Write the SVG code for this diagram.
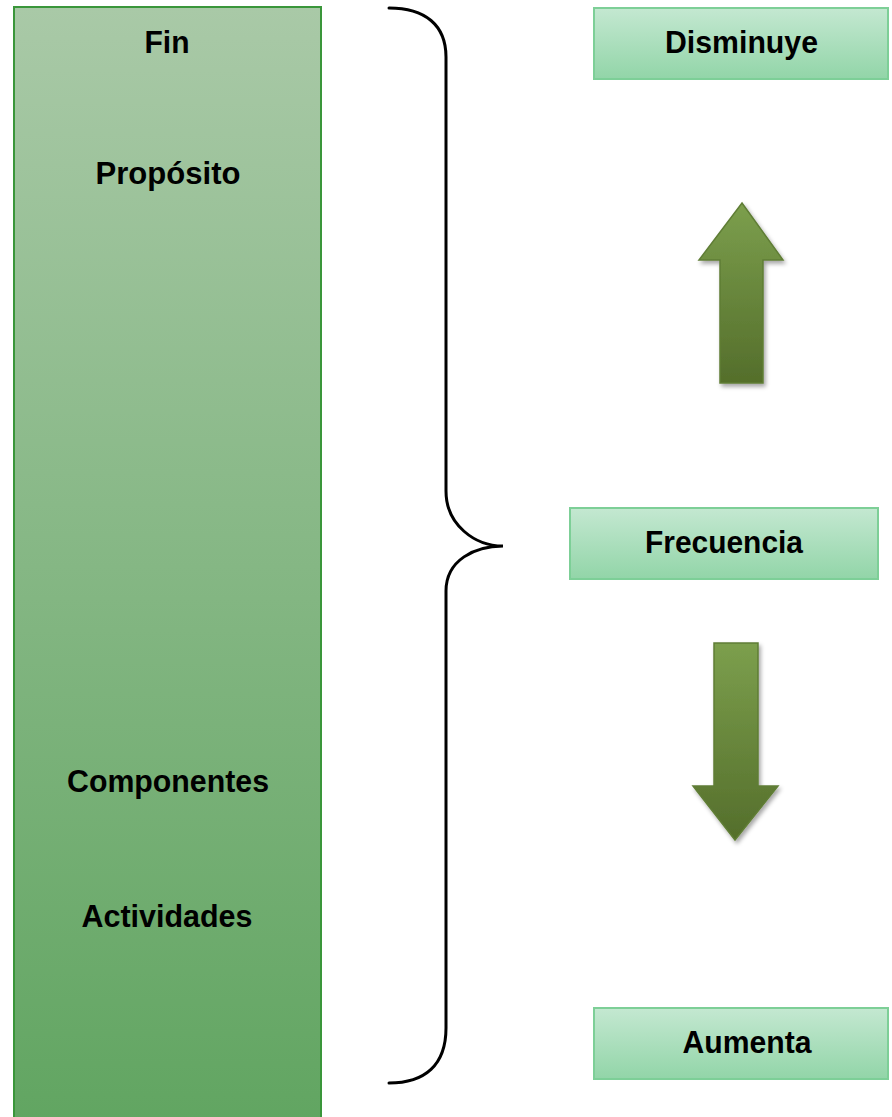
<svg xmlns="http://www.w3.org/2000/svg" width="892" height="1117" viewBox="0 0 892 1117">
<style>
.lbl{font-family:"Liberation Sans",Arial,sans-serif;font-weight:bold;font-size:31px;fill:#000;text-anchor:middle}
.box{fill:url(#boxGrad);stroke:#7dcf97;stroke-width:2}
.arrow{fill:url(#arrGrad);stroke:#5f7d35;stroke-width:1.5;filter:url(#shadow)}
.brace{fill:none;stroke:#000;stroke-width:3;stroke-linecap:round}
</style>
<defs>
<linearGradient id="colGrad" x1="0" y1="0" x2="0" y2="1">
<stop offset="0" stop-color="#a9c9a7"/>
<stop offset="1" stop-color="#61a561"/>
</linearGradient>
<linearGradient id="boxGrad" x1="0" y1="0" x2="0" y2="1">
<stop offset="0" stop-color="#c4e8d1"/>
<stop offset="1" stop-color="#92d5a8"/>
</linearGradient>
<linearGradient id="arrGrad" x1="0" y1="0" x2="0" y2="1">
<stop offset="0" stop-color="#7c9f4d"/>
<stop offset="1" stop-color="#546e2b"/>
</linearGradient>
<filter id="shadow" x="-20%" y="-20%" width="140%" height="140%">
<feDropShadow dx="2" dy="3" stdDeviation="2" flood-color="#000" flood-opacity="0.35"/>
</filter>
</defs>
<g id="column">
<rect x="14" y="7" width="307" height="1120" fill="url(#colGrad)" stroke="#3a963a" stroke-width="2"/>
<text class="lbl" x="167" y="53" textLength="45" lengthAdjust="spacingAndGlyphs">Fin</text>
<text class="lbl" x="168" y="184" textLength="145" lengthAdjust="spacingAndGlyphs">Propósito</text>
<text class="lbl" x="168" y="792" textLength="202" lengthAdjust="spacingAndGlyphs">Componentes</text>
<text class="lbl" x="167" y="927" textLength="171" lengthAdjust="spacingAndGlyphs">Actividades</text>
</g>
<g id="connectors">
<path class="brace" d="M389,8 C425,8 446,25 446,57 L446,491 C446,525 475,546 503,546 C475,546 446,560 446,591 L446,1028 C446,1065 425,1083 389,1083"/>
<path class="arrow" d="M742,203 L783,260 L763,260 L763,383 L720,383 L720,260 L699,260 Z"/>
<path class="arrow" d="M714,643 L758,643 L758,786 L778,786 L735,840 L693,786 L714,786 Z"/>
</g>
<g id="disminuye">
<rect class="box" x="594" y="8" width="294" height="71"/>
<text class="lbl" x="741.5" y="53" textLength="153" lengthAdjust="spacingAndGlyphs">Disminuye</text>
</g>
<g id="frecuencia">
<rect class="box" x="570" y="508" width="308" height="71"/>
<text class="lbl" x="724" y="553" textLength="158" lengthAdjust="spacingAndGlyphs">Frecuencia</text>
</g>
<g id="aumenta">
<rect class="box" x="594" y="1008" width="294" height="71"/>
<text class="lbl" x="747" y="1053" textLength="129" lengthAdjust="spacingAndGlyphs">Aumenta</text>
</g>
</svg>
